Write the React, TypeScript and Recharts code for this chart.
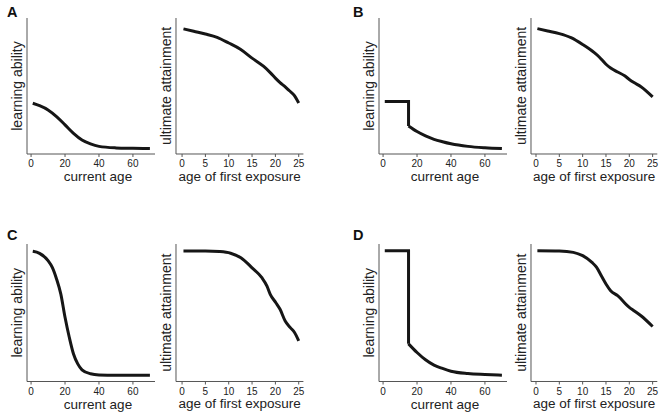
import { LineChart, Line, XAxis, YAxis } from 'recharts';

// panel A
const ageA = [1, 5, 10, 15, 20, 25, 30, 35, 40, 50, 60, 70];
const abilityA = [0.373, 0.355, 0.324, 0.275, 0.214, 0.152, 0.103, 0.074, 0.056, 0.045, 0.042, 0.04];
const exposureA = [0.3, 2.5, 5, 7.5, 10, 12.5, 15, 17.5, 19, 20, 21, 22, 23, 24, 25];
const attainA = [0.92, 0.902, 0.882, 0.858, 0.816, 0.77, 0.705, 0.644, 0.595, 0.558, 0.525, 0.497, 0.465, 0.433, 0.375];

// panel B
const ageBFlat = [1, 15, 15];
const abilityBFlat = [0.386, 0.386, 0.206];
const ageBDecay = [15, 20, 25, 30, 35, 40, 50, 60, 70];
const abilityBDecay = [0.206, 0.165, 0.133, 0.108, 0.09, 0.075, 0.056, 0.046, 0.04];
const exposureB = [0.3, 2.5, 5, 7.5, 10, 12.5, 13.5, 15, 16, 17.5, 19, 20, 21, 22.5, 25];
const attainB = [0.922, 0.905, 0.885, 0.855, 0.805, 0.745, 0.715, 0.66, 0.632, 0.603, 0.575, 0.548, 0.525, 0.495, 0.42];

// panel C
const ageC = [1, 5, 10, 12.5, 15, 17.5, 20, 22.5, 25, 27.5, 30, 35, 40, 50, 60, 70];
const abilityC = [0.947, 0.932, 0.879, 0.83, 0.746, 0.637, 0.467, 0.322, 0.2, 0.128, 0.085, 0.056, 0.048, 0.046, 0.046, 0.046];
const exposureC = [0.3, 5, 8, 10.4, 12.6, 15, 17.1, 18.2, 18.9, 20.1, 21, 22.1, 23.2, 24.1, 25];
const attainC = [0.949, 0.949, 0.945, 0.933, 0.9, 0.827, 0.755, 0.694, 0.634, 0.573, 0.525, 0.44, 0.392, 0.356, 0.295];

// panel D
const ageDFlat = [1, 15, 15];
const abilityDFlat = [0.951, 0.951, 0.274];
const ageDDecay = [15, 20, 25, 30, 35, 40, 50, 60, 70];
const abilityDDecay = [0.274, 0.211, 0.158, 0.119, 0.095, 0.075, 0.058, 0.051, 0.046];
const exposureD = [0.3, 5, 8, 10, 12, 13, 14, 15, 16, 17.5, 20, 21, 22.5, 25];
const attainD = [0.951, 0.949, 0.939, 0.915, 0.866, 0.83, 0.769, 0.709, 0.66, 0.624, 0.539, 0.515, 0.478, 0.4];

const ageTicks = [0, 20, 40, 60];
const exposureTicks = [0, 5, 10, 15, 20, 25];

const pts = (xs: number[], ys: number[]) => xs.map((x, i) => ({ x, y: ys[i] }));

const YW = 20;
const XH = 32;
const INK = '#161616';
const AXIS = '#555';

type Series = { data: { x: number; y: number }[]; curve: 'monotone' | 'linear' };

function Panel({ axisX, plotTop, plotW, plotH, domain, ticks, xLabel, yLabel, series, labelDx = 0 }: {
  axisX: number; plotTop: number; plotW: number; plotH: number; domain: [number, number];
  ticks: number[]; xLabel: string; yLabel: string; series: Series[]; labelDx?: number;
}) {
  return (
    <div style={{ position: 'absolute', left: axisX - YW, top: plotTop - 2 }}>
      <LineChart width={YW + plotW + 2} height={plotH + XH + 2} margin={{ top: 2, right: 2, left: 0, bottom: 0 }}>
        <XAxis
          dataKey="x"
          type="number"
          domain={domain}
          ticks={ticks}
          height={XH}
          tickSize={3}
          tickMargin={3}
          tick={{ fontSize: 10, fill: '#222' }}
          tickLine={{ stroke: AXIS }}
          axisLine={{ stroke: AXIS }}
          label={{ value: xLabel, position: 'insideBottom', offset: 5, dx: labelDx, style: { fontSize: 13.5, fill: '#222' } }}
        />
        <YAxis
          type="number"
          domain={[0, 1]}
          width={YW}
          tick={false}
          tickLine={false}
          axisLine={{ stroke: AXIS }}
          label={{ value: yLabel, angle: -90, position: 'insideLeft', offset: 10, style: { textAnchor: 'middle', fontSize: 14, fill: '#222' } }}
        />
        {series.map((s, i) => (
          <Line
            key={i}
            data={s.data}
            dataKey="y"
            type={s.curve}
            stroke={INK}
            strokeWidth={3}
            dot={false}
            isAnimationActive={false}
          />
        ))}
      </LineChart>
    </div>
  );
}

const letter = (text: string, left: number, top: number) => (
  <div style={{ position: 'absolute', left, top, fontSize: 14.5, lineHeight: '14px', fontWeight: 'bold', color: '#111' }}>{text}</div>
);

export default function App() {
  const ageDomain: [number, number] = [-2.4, 73];
  const expLeft: [number, number] = [-1.3, 26];
  const expRight: [number, number] = [-1.07, 26];
  return (
    <div style={{ position: 'absolute', left: 0, top: 0, width: 663, height: 416, background: '#fff', fontFamily: '"Liberation Sans", Arial, sans-serif' }}>
      {letter('A', 7, 5)}
      {letter('B', 353, 5)}
      {letter('C', 7, 228)}
      {letter('D', 353, 228)}

      <Panel axisX={27} plotTop={18} plotW={128} plotH={136} domain={ageDomain} ticks={ageTicks}
        xLabel="current age" yLabel="learning ability" labelDx={7}
        series={[{ data: pts(ageA, abilityA), curve: 'monotone' }]} />
      <Panel axisX={175.7} plotTop={18} plotW={127.4} plotH={136} domain={expLeft} ticks={exposureTicks}
        xLabel="age of first exposure" yLabel="ultimate attainment"
        series={[{ data: pts(exposureA, attainA), curve: 'monotone' }]} />

      <Panel axisX={378.5} plotTop={18} plotW={128} plotH={136} domain={ageDomain} ticks={ageTicks}
        xLabel="current age" yLabel="learning ability" labelDx={2}
        series={[
          { data: pts(ageBFlat, abilityBFlat), curve: 'linear' },
          { data: pts(ageBDecay, abilityBDecay), curve: 'monotone' },
        ]} />
      <Panel axisX={530.5} plotTop={18} plotW={126.3} plotH={136} domain={expRight} ticks={exposureTicks}
        xLabel="age of first exposure" yLabel="ultimate attainment"
        series={[{ data: pts(exposureB, attainB), curve: 'monotone' }]} />

      <Panel axisX={27} plotTop={244} plotW={128} plotH={137.5} domain={ageDomain} ticks={ageTicks}
        xLabel="current age" yLabel="learning ability" labelDx={7}
        series={[{ data: pts(ageC, abilityC), curve: 'monotone' }]} />
      <Panel axisX={175.7} plotTop={244} plotW={127.4} plotH={137.5} domain={expLeft} ticks={exposureTicks}
        xLabel="age of first exposure" yLabel="ultimate attainment"
        series={[{ data: pts(exposureC, attainC), curve: 'monotone' }]} />

      <Panel axisX={378.5} plotTop={244} plotW={128} plotH={137.5} domain={ageDomain} ticks={ageTicks}
        xLabel="current age" yLabel="learning ability" labelDx={2}
        series={[
          { data: pts(ageDFlat, abilityDFlat), curve: 'linear' },
          { data: pts(ageDDecay, abilityDDecay), curve: 'monotone' },
        ]} />
      <Panel axisX={530.5} plotTop={244} plotW={126.3} plotH={137.5} domain={expRight} ticks={exposureTicks}
        xLabel="age of first exposure" yLabel="ultimate attainment"
        series={[{ data: pts(exposureD, attainD), curve: 'monotone' }]} />
    </div>
  );
}
